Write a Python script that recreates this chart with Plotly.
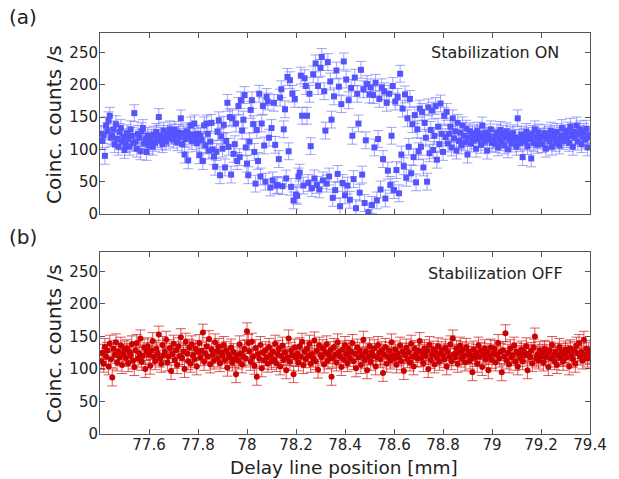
import numpy as np
import plotly.graph_objects as go

# Scan grid (delay line position, mm)
X_START = 77.405
X_STEP = 0.005

# Stabilization ON: coincidence counts /s (blue)
COUNTS_ON = [
    124, 113, 122, 90, 137, 128, 145, 152, 118, 121, 131, 108, 139, 116, 104, 127, 133, 112, 119, 99,
    108, 125, 117, 104, 131, 121, 110, 156, 112, 101, 124, 118, 97, 128, 133, 109, 115, 96, 121, 106,
    113, 118, 104, 123, 110, 127, 116, 150, 121, 113, 108, 129, 119, 112, 124, 117, 131, 121, 126, 115,
    130, 122, 111, 126, 119, 148, 108, 125, 92, 116, 128, 83, 121, 137, 113, 123, 140, 119, 110, 124,
    91, 121, 114, 82, 137, 106, 140, 124, 98, 112, 141, 100, 89, 73, 96, 127, 145, 60, 120, 101,
    138, 72, 113, 172, 104, 150, 61, 148, 93, 108, 140, 82, 167, 88, 176, 129, 146, 184, 103, 78,
    60, 112, 161, 176, 139, 96, 47, 130, 82, 186, 58, 140, 167, 106, 50, 181, 174, 118, 41, 133,
    52, 172, 107, 44, 45, 85, 180, 193, 43, 131, 162, 55, 212, 97, 207, 42, 186, 21, 178, 30,
    28, 58, 64, 214, 152, 44, 210, 198, 152, 48, 186, 105, 40, 216, 55, 233, 45, 198, 38, 226,
    243, 52, 190, 129, 47, 235, 58, 205, 146, 25, 182, 37, 222, 62, 197, 12, 170, 48, 236, 29,
    208, 44, 176, 22, 195, 121, 54, 211, 9, 186, 140, 33, 223, 61, 193, 17, 114, 201, 3, 185,
    196, 14, 184, 103, 203, 21, 116, 178, 38, 196, 85, 190, 24, 172, 67, 186, 45, 121, 198, 37,
    174, 68, 181, 32, 217, 92, 163, 74, 185, 56, 148, 104, 178, 63, 139, 88, 153, 49, 131, 97,
    163, 104, 158, 72, 141, 118, 50, 165, 94, 130, 160, 99, 121, 167, 84, 135, 108, 171, 124, 96,
    152, 119, 158, 109, 124, 135, 103, 148, 117, 128, 98, 141, 113, 126, 106, 137, 121, 111, 132, 92,
    118, 128, 109, 125, 114, 122, 101, 129, 116, 124, 107, 137, 119, 112, 126, 98, 121, 115, 131, 110,
    114, 120, 108, 126, 103, 117, 130, 111, 124, 106, 119, 128, 100, 115, 122, 109, 125, 113, 118, 104,
    148, 117, 110, 123, 88, 119, 112, 127, 105, 121, 116, 86, 124, 110, 131, 118, 107, 126, 114, 120,
    108, 119, 125, 101, 116, 122, 112, 129, 104, 118, 124, 110, 127, 115, 106, 121, 133, 113, 119, 125,
    116, 129, 110, 135, 121, 104, 127, 118, 137, 112, 124, 131, 108, 120, 127, 115, 132, 103, 119, 122,
]

# Stabilization OFF: coincidence counts /s (red)
COUNTS_OFF = [
    112, 125, 108, 134, 119, 128, 104, 139, 115, 87, 131, 122, 141, 110, 127, 118, 136, 106, 124, 130,
    117, 132, 109, 126, 121, 138, 113, 103, 129, 140, 116, 124, 147, 111, 120, 133, 100, 127, 135, 122,
    105, 128, 143, 119, 112, 131, 124, 153, 116, 108, 137, 121, 126, 145, 110, 119, 132, 97, 123, 139,
    114, 129, 106, 135, 120, 149, 117, 127, 100, 142, 124, 112, 133, 108, 138, 121, 115, 131, 104, 126,
    140, 118, 128, 156, 111, 124, 135, 119, 146, 107, 130, 122, 113, 141, 127, 116, 134, 109, 125, 121,
    137, 114, 129, 102, 122, 118, 133, 110, 126, 115, 92, 121, 113, 138, 124, 107, 119, 131, 116, 158,
    140, 127, 111, 142, 119, 105, 132, 88, 123, 116, 137, 101, 125, 113, 129, 118, 108, 134, 121, 112,
    127, 115, 139, 109, 123, 131, 104, 120, 136, 114, 126, 98, 118, 147, 111, 128, 121, 92, 133, 117,
    124, 110, 135, 119, 142, 106, 127, 115, 131, 120, 139, 108, 123, 116, 144, 112, 128, 99, 136, 121,
    118, 132, 107, 125, 138, 113, 121, 129, 88, 116, 134, 122, 110, 141, 126, 119, 103, 130, 115, 137,
    123, 109, 131, 117, 126, 140, 112, 124, 101, 133, 118, 128, 106, 121, 145, 114, 127, 98, 119, 135,
    111, 126, 120, 132, 104, 118, 137, 125, 115, 129, 94, 122, 134, 108, 119, 128, 113, 141, 121, 116,
    130, 107, 124, 118, 136, 112, 127, 97, 121, 133, 115, 126, 110, 139, 119, 104, 131, 123, 116, 128,
    143, 117, 125, 109, 132, 120, 128, 100, 137, 114, 122, 130, 107, 126, 118, 135, 111, 124, 129, 121,
    115, 133, 104, 126, 119, 138, 112, 147, 123, 118, 131, 108, 125, 136, 116, 129, 120, 110, 134, 122,
    127, 113, 121, 95, 130, 117, 125, 108, 136, 119, 128, 103, 122, 132, 115, 126, 98, 120, 133, 114,
    124, 131, 110, 122, 140, 116, 126, 95, 129, 119, 155, 113, 125, 107, 132, 118, 121, 136, 111, 127,
    104, 123, 117, 130, 112, 126, 121, 135, 98, 124, 118, 128, 109, 133, 150, 116, 122, 113, 129, 119,
    125, 110, 131, 118, 124, 103, 129, 116, 137, 121, 112, 127, 106, 120, 134, 117, 126, 111, 123, 130,
    118, 127, 104, 132, 121, 115, 129, 108, 136, 124, 140, 119, 126, 113, 145, 122, 131, 116, 128, 120,
]

# Error bar half-widths (counts /s)
ERR_ON = 13
ERR_OFF = 13

X_TICKS = [77.6, 77.8, 78.0, 78.2, 78.4, 78.6, 78.8, 79.0, 79.2, 79.4]
X_TICK_TEXT = ["77.6", "77.8", "78", "78.2", "78.4", "78.6", "78.8", "79", "79.2", "79.4"]
Y_TICKS = [0, 50, 100, 150, 200, 250]
Y_TICK_TEXT = ["0", "50", "100", "150", "200", "250"]

x_on = X_START + X_STEP * np.arange(len(COUNTS_ON))
x_off = X_START + X_STEP * np.arange(len(COUNTS_OFF))

FONT = "DejaVu Sans"
AX_COLOR = "#555555"

fig = go.Figure()
fig.add_trace(go.Scatter(
    x=x_on, y=COUNTS_ON, mode="markers", xaxis="x", yaxis="y",
    marker=dict(symbol="square", size=6, color="#5454ff"),
    error_y=dict(type="constant", value=ERR_ON, color="rgba(100,100,255,0.6)",
                 thickness=1, width=5),
    showlegend=False,
))
fig.add_trace(go.Scatter(
    x=x_off, y=COUNTS_OFF, mode="markers", xaxis="x2", yaxis="y2",
    marker=dict(symbol="circle", size=6, color="#cc0000"),
    error_y=dict(type="constant", value=ERR_OFF, color="rgba(210,20,20,0.7)",
                 thickness=1, width=5),
    showlegend=False,
))

axis_common = dict(
    showline=True, linecolor=AX_COLOR, linewidth=1, mirror="ticks",
    ticks="inside", ticklen=5, tickcolor=AX_COLOR, showgrid=False, zeroline=False,
    tickfont=dict(family=FONT, size=15, color="#222222"),
)

fig.update_layout(
    width=619, height=479,
    margin=dict(l=100, r=19, t=33, b=45),
    paper_bgcolor="white", plot_bgcolor="white",
    font=dict(family=FONT, color="#222222"),
    xaxis=dict(domain=[0, 1], range=[77.4, 79.4], tickvals=X_TICKS, ticktext=X_TICK_TEXT,
               showticklabels=False, anchor="y", **axis_common),
    yaxis=dict(domain=[0.5486, 1.0], range=[0, 280], tickvals=Y_TICKS, ticktext=Y_TICK_TEXT,
               anchor="x", ticklabelstandoff=-2, **axis_common),
    xaxis2=dict(domain=[0, 1], range=[77.4, 79.4], tickvals=X_TICKS, ticktext=X_TICK_TEXT,
                anchor="y2", ticklabelstandoff=-3, **axis_common),
    yaxis2=dict(domain=[0.0, 0.4539], range=[0, 280], tickvals=Y_TICKS, ticktext=Y_TICK_TEXT,
                anchor="x2", ticklabelstandoff=-2, **axis_common),
)

def px_to_paper(px, py):
    # window pixel -> paper fraction of the plot area (x 100..600, y 33..434)
    return (px - 100) / 500.0, (434 - py) / 401.0

annots = [
    ("Stabilization ON", 503, 52, 16, 0),
    ("Stabilization OFF", 504, 273, 16, 0),
    ("(a)", 21, 17, 20, 0),
    ("(b)", 21, 237, 20, 0),
    ("Coinc. counts /s", 53, 124, 20, -90),
    ("Coinc. counts /s", 53, 343, 20, -90),
    ("Delay line position [mm]", 349, 467, 18.5, 0),
]
for text, px, py, size, ang in annots:
    ax, ay = px_to_paper(px, py)
    fig.add_annotation(
        x=ax, y=ay, xref="paper", yref="paper", text=text, showarrow=False,
        xanchor="center", yanchor="middle", textangle=ang,
        font=dict(family=FONT, size=size, color="#222222"),
    )

fig.write_html(
    "out.html",
    config={"displayModeBar": False},
    post_script="document.body.style.margin='0px';document.body.style.overflow='hidden';",
)
